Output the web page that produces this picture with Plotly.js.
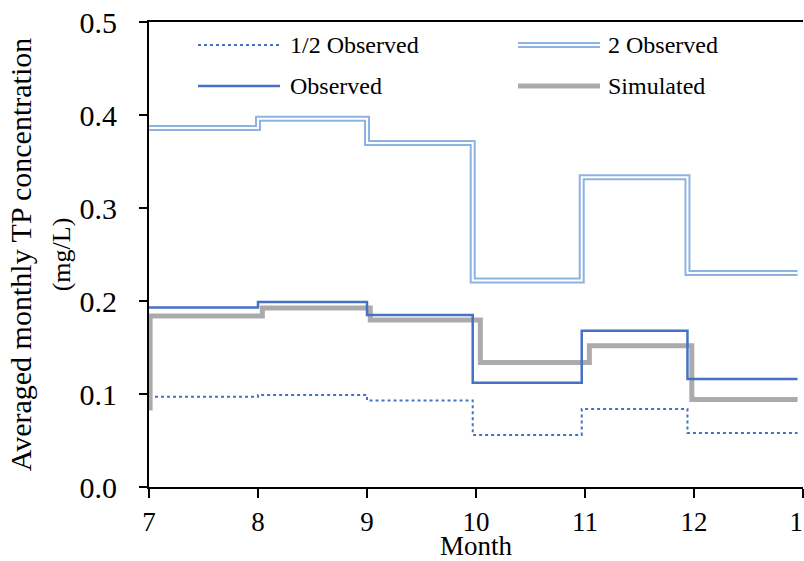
<!DOCTYPE html>
<html>
<head>
<meta charset="utf-8">
<script src="https://cdn.plot.ly/plotly-3.0.1.min.js"></script>
<style>
  html, body { margin: 0; padding: 0; background: #fff; }
  #chart { width: 804px; height: 561px; }
</style>
</head>
<body>
<div id="chart"></div>
<script>
// ---- data ----
const monthTicks = [7, 8, 9, 10, 11, 12, 13];
const monthTickText = ['7', '8', '9', '10', '11', '12', '13'];

// step change positions (month) for the observed-based series
const obsX = [7, 8, 9, 9.97, 10.97, 11.94, 12.95];
const observed     = [0.193, 0.199, 0.185, 0.112, 0.168, 0.116, 0.116];
const twoObserved  = [0.386, 0.396, 0.370, 0.222, 0.333, 0.230, 0.230];
const halfObserved = [0.097, 0.099, 0.093, 0.056, 0.084, 0.058, 0.058];

// simulated series (steps slightly lagged)
const simX = [7, 7.01, 8.04, 9.03, 10.04, 11.04, 11.98, 12.95];
const simulated = [0.085, 0.184, 0.1925, 0.1795, 0.134, 0.152, 0.094, 0.094];

const legendNames = ['1/2 Observed', '2 Observed', 'Observed', 'Simulated'];

// ---- styles ----
const FONT = 'Liberation Serif, Times New Roman, serif';
const cObs = '#4472C4';
const cTwo = '#8DB3E2';
const cSim = '#ABABAB';

const traces = [
  { x: obsX, y: twoObserved, mode: 'lines',
    line: { shape: 'hv', color: cTwo, width: 6 }, name: legendNames[1], showlegend: false },
  { x: obsX, y: twoObserved, mode: 'lines',
    line: { shape: 'hv', color: '#ffffff', width: 2 }, showlegend: false },
  { x: obsX, y: halfObserved, mode: 'lines',
    line: { shape: 'hv', color: cObs, width: 2, dash: 'dot' }, name: legendNames[0], showlegend: false },
  { x: simX, y: simulated, mode: 'lines',
    line: { shape: 'hv', color: cSim, width: 5 }, name: legendNames[3], showlegend: false },
  { x: obsX, y: observed, mode: 'lines',
    line: { shape: 'hv', color: cObs, width: 2.5 }, name: legendNames[2], showlegend: false }
];

// ---- custom legend (paper coords) ----
const L = 149, R = 803, T = 22, B = 487;
const px = v => (v - L) / (R - L);
const py = v => (B - v) / (B - T);
const legendItems = [
  { x0: 198, x1: 280, y: 45, text: legendNames[0], tx: 288, line: { color: cObs, width: 2, dash: 'dot' } },
  { x0: 518, x1: 600, y: 45, text: legendNames[1], tx: 606, line: { color: cTwo, width: 6 }, inner: true },
  { x0: 198, x1: 280, y: 86, text: legendNames[2], tx: 288, line: { color: cObs, width: 2.5 } },
  { x0: 518, x1: 600, y: 86, text: legendNames[3], tx: 606, line: { color: cSim, width: 5 } }
];
const shapes = [];
const annotations = [];
legendItems.forEach(it => {
  shapes.push({ type: 'line', xref: 'paper', yref: 'paper',
    x0: px(it.x0), x1: px(it.x1), y0: py(it.y), y1: py(it.y), line: it.line });
  if (it.inner) {
    shapes.push({ type: 'line', xref: 'paper', yref: 'paper',
      x0: px(it.x0), x1: px(it.x1), y0: py(it.y), y1: py(it.y), line: { color: '#fff', width: 2 } });
  }
  annotations.push({ xref: 'paper', yref: 'paper', x: px(it.tx), y: py(it.y),
    xanchor: 'left', yanchor: 'middle', showarrow: false, text: it.text,
    font: { family: FONT, size: 24, color: '#000' } });
});

const layout = {
  width: 804, height: 561,
  margin: { l: L, r: 804 - R, t: T, b: 561 - B, pad: 0 },
  paper_bgcolor: '#fff', plot_bgcolor: '#fff',
  showlegend: false,
  font: { family: FONT, color: '#000' },
  xaxis: {
    range: [7, 13], tickvals: monthTicks, ticktext: monthTickText,
    showgrid: false, zeroline: false, showline: true, mirror: true,
    linecolor: '#000', linewidth: 2,
    ticks: 'outside', ticklen: 9, tickwidth: 2, tickcolor: '#000',
    tickfont: { family: FONT, size: 27, color: '#000' },
    ticklabeloverflow: 'allow',
    ticklabelstandoff: 1,
    title: { text: 'Month', font: { family: FONT, size: 27, color: '#000' }, standoff: 3 }
  },
  yaxis: {
    range: [0, 0.5], tickvals: [0, 0.1, 0.2, 0.3, 0.4, 0.5],
    ticktext: ['0.0', '0.1', '0.2', '0.3', '0.4', '0.5'],
    showgrid: false, zeroline: false, showline: true,
    linecolor: '#000', linewidth: 2,
    ticks: 'outside', ticklen: 8, tickwidth: 2, tickcolor: '#000',
    tickfont: { family: FONT, size: 30, color: '#000' },
    ticklabelstandoff: 16,
    title: { text: 'Averaged monthly TP concentration<br><span style="font-size:26px">(mg/L)</span>',
             font: { family: FONT, size: 30, color: '#000' }, standoff: 0 }
  },
  shapes: shapes,
  annotations: annotations
};

Plotly.newPlot('chart', traces, layout, { displayModeBar: false, staticPlot: true });
</script>
</body>
</html>
